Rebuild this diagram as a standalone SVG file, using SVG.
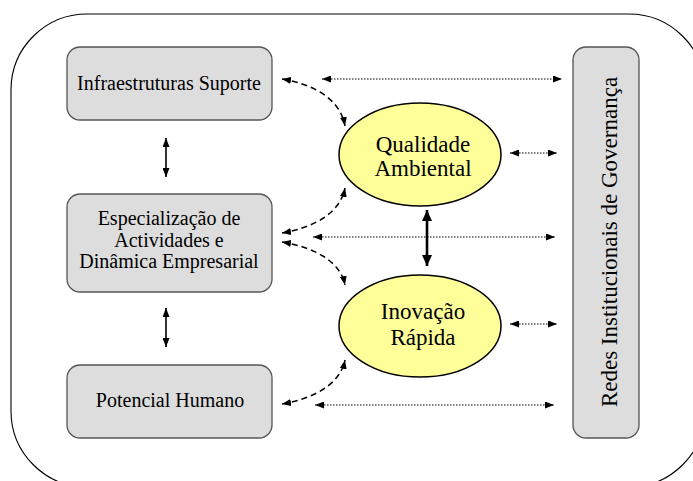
<svg xmlns="http://www.w3.org/2000/svg" width="693" height="481" viewBox="0 0 693 481">
  <style>
    .frame { fill: none; stroke: #000; stroke-width: 1.1; }
    .box { fill: #dddddd; stroke: #555; stroke-width: 1.3; }
    .oval { fill: #ffff99; stroke: #000; stroke-width: 1.5; }
    .lbl { font-family: "Liberation Serif", "Times New Roman", serif; fill: #000; text-anchor: middle; }
    .bt { font-size: 20px; }
    .et { font-size: 23px; }
    .solid { fill: none; stroke: #000; stroke-width: 1.6; marker-start: url(#ah); marker-end: url(#ah); }
    .thick { fill: none; stroke: #000; stroke-width: 2.6; marker-start: url(#ahBig); marker-end: url(#ahBig); }
    .dash { fill: none; stroke: #000; stroke-width: 1.5; stroke-dasharray: 6 4; marker-start: url(#ah); marker-end: url(#ah); }
    .dot { fill: none; stroke: #000; stroke-width: 1.2; stroke-dasharray: 1.5 1.5; marker-start: url(#ah); marker-end: url(#ah); }
  </style>
  <defs>
    <marker id="ah" viewBox="0 0 10 10" refX="10" refY="5" markerWidth="9" markerHeight="7" markerUnits="userSpaceOnUse" orient="auto-start-reverse" preserveAspectRatio="none">
      <path d="M0,0 L10,5 L0,10 z" fill="#000"/>
    </marker>
    <marker id="ahBig" viewBox="0 0 10 10" refX="10" refY="5" markerWidth="11" markerHeight="10" markerUnits="userSpaceOnUse" orient="auto-start-reverse" preserveAspectRatio="none">
      <path d="M0,0 L10,5 L0,10 z" fill="#000"/>
    </marker>
  </defs>

  <!-- outer boundary -->
  <rect class="frame" x="11" y="14" width="694" height="473" rx="76" ry="76"/>

  <!-- connectors -->
  <g id="connectors">
    <line class="solid" x1="166" y1="138" x2="166" y2="177"/>
    <line class="solid" x1="166" y1="308" x2="166" y2="347"/>
    <line class="thick" x1="427" y1="210" x2="427" y2="266"/>

    <line class="dot" x1="322" y1="79" x2="562" y2="79"/>
    <line class="dot" x1="313" y1="237" x2="555" y2="237"/>
    <line class="dot" x1="315" y1="405" x2="554" y2="405"/>
    <line class="dot" x1="510" y1="153" x2="557" y2="153"/>
    <line class="dot" x1="510" y1="324" x2="557" y2="324"/>

    <path class="dash" d="M282,79 C312,84 340,98 345,126"/>
    <path class="dash" d="M282,233 C312,228 340,214 345,188"/>
    <path class="dash" d="M282,242 C312,247 340,260 345,285"/>
    <path class="dash" d="M282,404 C312,399 340,385 345,360"/>
  </g>

  <!-- left column -->
  <g id="infraestruturas" font-family="'Liberation Serif', 'Times New Roman', serif">
    <rect class="box" x="67" y="47" width="205" height="73" rx="13"/>
    <text class="lbl bt" x="169" y="90">Infraestruturas Suporte</text>
  </g>
  <g id="especializacao" font-family="'Liberation Serif', 'Times New Roman', serif">
    <rect class="box" x="67" y="194" width="205" height="98" rx="13"/>
    <text class="lbl bt" x="169" y="225">Especialização de</text>
    <text class="lbl bt" x="169" y="246.5">Actividades e</text>
    <text class="lbl bt" x="169" y="268">Dinâmica Empresarial</text>
  </g>
  <g id="potencial" font-family="'Liberation Serif', 'Times New Roman', serif">
    <rect class="box" x="67" y="365" width="205" height="73" rx="13"/>
    <text class="lbl bt" x="170" y="407">Potencial Humano</text>
  </g>

  <!-- centre column -->
  <g id="qualidade" font-family="'Liberation Serif', 'Times New Roman', serif">
    <ellipse class="oval" cx="420" cy="154.5" rx="81" ry="51.5"/>
    <text class="lbl et" x="423" y="152">Qualidade</text>
    <text class="lbl et" x="423" y="176">Ambiental</text>
  </g>
  <g id="inovacao" font-family="'Liberation Serif', 'Times New Roman', serif">
    <ellipse class="oval" cx="420" cy="326" rx="81" ry="51"/>
    <text class="lbl et" x="423" y="319">Inovação</text>
    <text class="lbl et" x="423" y="345">Rápida</text>
  </g>

  <!-- right column -->
  <g id="redes" font-family="'Liberation Serif', 'Times New Roman', serif">
    <rect class="box" x="573" y="47" width="66" height="391" rx="13"/>
    <text class="lbl et" transform="translate(617,242) rotate(-90)" x="0" y="0">Redes Institucionais de Governança</text>
  </g>
</svg>
